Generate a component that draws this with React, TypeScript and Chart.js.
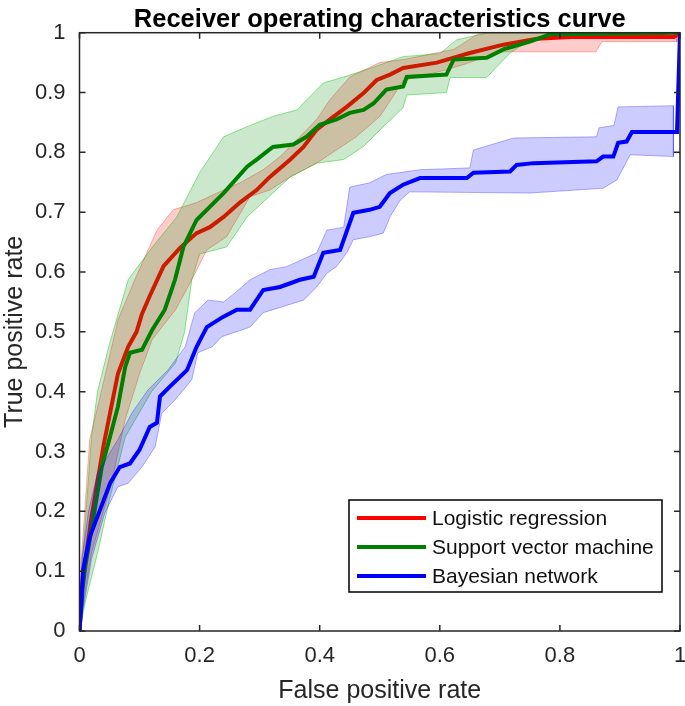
import React, { useEffect, useRef } from "react";
import { Chart, registerables } from "chart.js";

Chart.register(...registerables);

const TITLE = "Receiver operating characteristics curve";
const X_LABEL = "False positive rate";
const Y_LABEL = "True positive rate";
const SERIES_NAMES = ["Logistic regression", "Support vector machine", "Bayesian network"];
const X_TICKS = [0, 0.2, 0.4, 0.6, 0.8, 1];
const Y_TICKS = [0, 0.1, 0.2, 0.3, 0.4, 0.5, 0.6, 0.7, 0.8, 0.9, 1];

// Logistic regression (mean curve and confidence band)
const lrFpr = [0, 0.005, 0.01, 0.02, 0.03, 0.04, 0.05, 0.064, 0.081, 0.095, 0.104, 0.117, 0.14, 0.167, 0.195, 0.217, 0.24, 0.267, 0.295, 0.317, 0.351, 0.373, 0.395, 0.417, 0.445, 0.473, 0.495, 0.517, 0.539, 0.595, 0.65, 0.706, 0.762, 0.817, 0.99, 1];
const lrTpr = [0, 0.08, 0.12, 0.19, 0.25, 0.31, 0.36, 0.43, 0.475, 0.5, 0.53, 0.56, 0.61, 0.64, 0.665, 0.675, 0.692, 0.716, 0.737, 0.759, 0.788, 0.809, 0.838, 0.855, 0.876, 0.899, 0.921, 0.93, 0.941, 0.95, 0.966, 0.98, 0.99, 0.993, 0.993, 1];
const lrUpperFpr = [0, 0.003, 0.01, 0.017, 0.037, 0.064, 0.092, 0.129, 0.156, 0.195, 0.229, 0.267, 0.306, 0.334, 0.362, 0.395, 0.417, 0.45, 0.5, 0.539, 0.623, 0.667, 0.995];
const lrUpperTpr = [0, 0.12, 0.22, 0.32, 0.403, 0.52, 0.587, 0.67, 0.704, 0.716, 0.732, 0.749, 0.771, 0.793, 0.821, 0.855, 0.888, 0.926, 0.95, 0.955, 0.972, 1, 1];
const lrLowerFpr = [0, 0.01, 0.02, 0.039, 0.054, 0.076, 0.1, 0.121, 0.16, 0.187, 0.212, 0.245, 0.284, 0.317, 0.351, 0.395, 0.428, 0.461, 0.5, 0.52, 0.539, 0.611, 0.65, 0.695, 0.86, 0.87, 0.995];
const lrLowerTpr = [0, 0.07, 0.13, 0.197, 0.25, 0.353, 0.43, 0.487, 0.537, 0.587, 0.637, 0.659, 0.726, 0.737, 0.759, 0.782, 0.804, 0.826, 0.86, 0.89, 0.92, 0.938, 0.95, 0.968, 0.968, 0.985, 0.985];

// Support vector machine
const svmFpr = [0, 0.005, 0.01, 0.02, 0.037, 0.048, 0.064, 0.076, 0.084, 0.104, 0.121, 0.142, 0.159, 0.173, 0.195, 0.217, 0.24, 0.279, 0.295, 0.322, 0.356, 0.378, 0.4, 0.428, 0.45, 0.473, 0.49, 0.511, 0.539, 0.545, 0.611, 0.623, 0.678, 0.706, 0.75, 0.783, 1];
const svmTpr = [0, 0.07, 0.11, 0.17, 0.274, 0.314, 0.375, 0.441, 0.465, 0.47, 0.503, 0.537, 0.587, 0.642, 0.687, 0.709, 0.732, 0.776, 0.788, 0.809, 0.813, 0.826, 0.846, 0.855, 0.866, 0.871, 0.882, 0.905, 0.91, 0.926, 0.93, 0.955, 0.958, 0.972, 0.985, 0.997, 1];
const svmUpperFpr = [0, 0.005, 0.02, 0.03, 0.05, 0.081, 0.12, 0.162, 0.2, 0.24, 0.279, 0.322, 0.362, 0.406, 0.44, 0.483, 0.539, 0.6, 0.628, 0.68, 1];
const svmUpperTpr = [0, 0.12, 0.324, 0.4, 0.48, 0.587, 0.64, 0.692, 0.766, 0.826, 0.843, 0.86, 0.871, 0.916, 0.926, 0.94, 0.96, 0.965, 0.988, 1, 1];
const svmLowerFpr = [0, 0.01, 0.03, 0.05, 0.065, 0.076, 0.12, 0.16, 0.175, 0.187, 0.2, 0.245, 0.279, 0.351, 0.395, 0.44, 0.473, 0.495, 0.539, 0.545, 0.611, 0.617, 0.678, 0.695, 0.717, 0.75, 0.78, 1];
const svmLowerTpr = [0, 0.05, 0.13, 0.22, 0.28, 0.324, 0.4, 0.448, 0.5, 0.587, 0.63, 0.642, 0.692, 0.759, 0.782, 0.788, 0.81, 0.832, 0.875, 0.896, 0.9, 0.925, 0.925, 0.943, 0.966, 0.988, 0.997, 1];

// Bayesian network
const bnFpr = [0, 0.006, 0.017, 0.034, 0.051, 0.067, 0.084, 0.1, 0.117, 0.129, 0.134, 0.15, 0.179, 0.195, 0.212, 0.239, 0.262, 0.284, 0.306, 0.334, 0.367, 0.39, 0.406, 0.434, 0.456, 0.483, 0.5, 0.517, 0.539, 0.567, 0.645, 0.656, 0.717, 0.728, 0.756, 0.861, 0.872, 0.889, 0.897, 0.911, 0.92, 0.995, 1];
const bnTpr = [0, 0.102, 0.157, 0.202, 0.247, 0.274, 0.28, 0.303, 0.341, 0.348, 0.392, 0.408, 0.436, 0.475, 0.508, 0.525, 0.537, 0.537, 0.57, 0.575, 0.587, 0.592, 0.632, 0.637, 0.699, 0.704, 0.709, 0.732, 0.746, 0.757, 0.757, 0.766, 0.768, 0.779, 0.782, 0.785, 0.793, 0.793, 0.816, 0.818, 0.834, 0.834, 1];
const bnUpperFpr = [0, 0.004, 0.015, 0.03, 0.064, 0.087, 0.114, 0.147, 0.176, 0.192, 0.214, 0.24, 0.259, 0.284, 0.317, 0.345, 0.395, 0.412, 0.44, 0.45, 0.483, 0.511, 0.567, 0.65, 0.656, 0.723, 0.861, 0.865, 0.89, 0.897, 0.989];
const bnUpperTpr = [0, 0.12, 0.2, 0.264, 0.32, 0.364, 0.403, 0.436, 0.475, 0.532, 0.553, 0.55, 0.565, 0.587, 0.604, 0.609, 0.632, 0.67, 0.675, 0.742, 0.749, 0.763, 0.771, 0.774, 0.804, 0.824, 0.826, 0.841, 0.845, 0.876, 0.878];
const bnLowerFpr = [0, 0.02, 0.042, 0.064, 0.081, 0.104, 0.126, 0.137, 0.159, 0.187, 0.197, 0.221, 0.237, 0.27, 0.284, 0.306, 0.373, 0.395, 0.412, 0.428, 0.445, 0.456, 0.483, 0.506, 0.517, 0.534, 0.55, 0.75, 0.872, 0.895, 0.917, 0.989];
const bnLowerTpr = [0, 0.12, 0.197, 0.241, 0.247, 0.274, 0.308, 0.364, 0.386, 0.42, 0.465, 0.475, 0.492, 0.503, 0.508, 0.532, 0.553, 0.575, 0.598, 0.609, 0.632, 0.654, 0.659, 0.665, 0.692, 0.72, 0.734, 0.732, 0.74, 0.754, 0.796, 0.793];

const LINE_COLORS = ["rgb(255,0,0)", "rgb(0,128,0)", "rgb(0,0,255)"];
const BAND_FILLS = ["rgba(255,0,0,0.2)", "rgba(0,140,0,0.2)", "rgba(0,0,255,0.2)"];
const BAND_EDGES = ["rgba(255,0,0,0.3)", "rgba(0,200,0,0.45)", "rgba(0,0,255,0.3)"];

const FONT = '"Liberation Sans", Arial, Helvetica, sans-serif';

const pts = (xs: number[], ys: number[]) => xs.map((x, i) => ({ x, y: ys[i] }));
const band = (ux: number[], uy: number[], lx: number[], ly: number[]) => [
  ...pts(ux, uy),
  ...pts(lx, ly).reverse(),
];

const axisBoxPlugin = {
  id: "axisBox",
  afterDraw(chart: any) {
    const { ctx, chartArea: a, scales } = chart;
    ctx.save();

    // title centred over the plot area
    ctx.fillStyle = "#000";
    ctx.font = `bold 25.5px ${FONT}`;
    ctx.textAlign = "center";
    ctx.textBaseline = "alphabetic";
    ctx.fillText(TITLE, (a.left + a.right) / 2, a.top - 6);

    ctx.strokeStyle = "#262626";
    ctx.lineWidth = 1.5;
    ctx.strokeRect(a.left, a.top, a.right - a.left, a.bottom - a.top);
    const tl = 6;
    ctx.beginPath();
    for (const v of X_TICKS) {
      const px = scales.x.getPixelForValue(v);
      ctx.moveTo(px, a.bottom);
      ctx.lineTo(px, a.bottom - tl);
      ctx.moveTo(px, a.top);
      ctx.lineTo(px, a.top + tl);
    }
    for (const v of Y_TICKS) {
      const py = scales.y.getPixelForValue(v);
      ctx.moveTo(a.left, py);
      ctx.lineTo(a.left + tl, py);
      ctx.moveTo(a.right, py);
      ctx.lineTo(a.right - tl, py);
    }
    ctx.stroke();

    // legend box inside plot, bottom-right
    const w = 313;
    const h = 92;
    const left = a.right - 331;
    const top = a.bottom - 131;
    ctx.fillStyle = "#fff";
    ctx.fillRect(left, top, w, h);
    ctx.strokeStyle = "#000";
    ctx.lineWidth = 1.5;
    ctx.strokeRect(left, top, w, h);
    ctx.font = `21px ${FONT}`;
    ctx.textBaseline = "middle";
    ctx.textAlign = "left";
    SERIES_NAMES.forEach((name, i) => {
      const y = top + 18 + i * 29;
      ctx.strokeStyle = LINE_COLORS[i];
      ctx.lineWidth = 4;
      ctx.beginPath();
      ctx.moveTo(left + 8, y);
      ctx.lineTo(left + 77, y);
      ctx.stroke();
      ctx.fillStyle = "#111";
      ctx.fillText(name, left + 83, y + 1.5);
    });
    ctx.restore();
  },
};

export default function App() {
  const canvasRef = useRef<HTMLCanvasElement | null>(null);

  useEffect(() => {
    if (!canvasRef.current) return;
    const bands = [
      band(lrUpperFpr, lrUpperTpr, lrLowerFpr, lrLowerTpr),
      band(svmUpperFpr, svmUpperTpr, svmLowerFpr, svmLowerTpr),
      band(bnUpperFpr, bnUpperTpr, bnLowerFpr, bnLowerTpr),
    ];
    const means = [pts(lrFpr, lrTpr), pts(svmFpr, svmTpr), pts(bnFpr, bnTpr)];
    const datasets: any[] = [];
    for (let i = 0; i < 3; i++) {
      datasets.push({
        label: SERIES_NAMES[i] + " band",
        data: bands[i],
        fill: "shape",
        backgroundColor: BAND_FILLS[i],
        borderColor: BAND_EDGES[i],
        borderWidth: 1,
        pointRadius: 0,
        tension: 0,
        order: 6 - 2 * i,
      });
      datasets.push({
        label: SERIES_NAMES[i],
        data: means[i],
        fill: false,
        borderColor: LINE_COLORS[i],
        backgroundColor: LINE_COLORS[i],
        borderWidth: 4,
        borderJoinStyle: "miter",
        pointRadius: 0,
        tension: 0,
        order: 5 - 2 * i,
      });
    }

    const chart = new Chart(canvasRef.current, {
      type: "line",
      data: { datasets },
      options: {
        animation: false,
        responsive: false,
        devicePixelRatio: 1,
        layout: { padding: { left: 0, right: 5, top: 32.7, bottom: 0 } },
        plugins: {
          legend: { display: false },
          tooltip: { enabled: false },
          title: { display: false },
        },
        scales: {
          x: {
            type: "linear",
            min: 0,
            max: 1,
            afterBuildTicks: (s: any) => {
              s.ticks = X_TICKS.map((v) => ({ value: v }));
            },
            afterFit: (s: any) => {
              s.height = 75;
              s.paddingRight = 0;
              s.paddingLeft = 0;
            },
            grid: { display: false, drawTicks: false },
            border: { display: false },
            ticks: {
              color: "#262626",
              padding: 12,
              maxRotation: 0,
              autoSkip: false,
              font: { family: FONT, size: 22 },
              callback: (v: any) => String(Math.round(Number(v) * 10) / 10),
            },
            title: {
              display: true,
              text: X_LABEL,
              color: "#262626",
              font: { family: FONT, size: 25, lineHeight: 1.2 },
              padding: { top: 0, bottom: 0 },
            },
          },
          y: {
            type: "linear",
            min: 0,
            max: 1,
            afterBuildTicks: (s: any) => {
              s.ticks = Y_TICKS.map((v) => ({ value: v }));
            },
            afterFit: (s: any) => {
              s.width = 79.5;
              s.paddingTop = 0;
              s.paddingBottom = 0;
            },
            grid: { display: false, drawTicks: false },
            border: { display: false },
            ticks: {
              color: "#262626",
              padding: 14,
              autoSkip: false,
              font: { family: FONT, size: 22 },
              callback: (v: any) => String(Math.round(Number(v) * 10) / 10),
            },
            title: {
              display: true,
              text: Y_LABEL,
              color: "#262626",
              font: { family: FONT, size: 25, lineHeight: 1.2 },
              padding: { top: 0, bottom: 0 },
            },
          },
        },
      },
      plugins: [axisBoxPlugin],
    } as any);
    return () => chart.destroy();
  }, []);

  return (
    <div style={{ position: "fixed", left: 0, top: 0, width: 685, height: 706, background: "#fff" }}>
      <canvas ref={canvasRef} width={685} height={706} />
    </div>
  );
}
